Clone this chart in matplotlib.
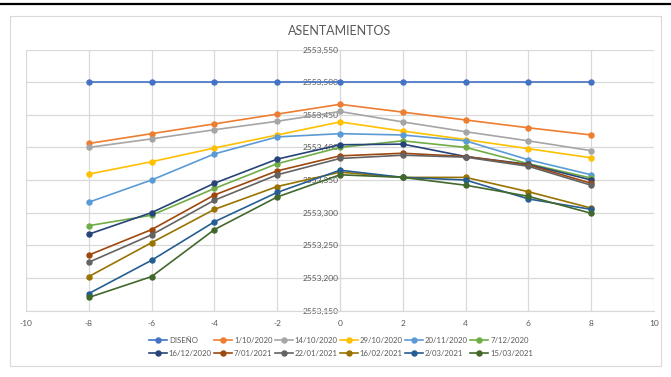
import numpy as np
import matplotlib
matplotlib.use('Agg')
import matplotlib.pyplot as plt
from matplotlib.patches import Rectangle
from matplotlib.lines import Line2D
from matplotlib.ticker import FuncFormatter

plt.rcParams['font.family'] = ['Lato', 'DejaVu Sans']
plt.rcParams['axes.unicode_minus'] = False

# 
# Data
x = [-8, -6, -4, -2, 0, 2, 4, 6, 8]
labels = ['DISEÑO', '1/10/2020', '14/10/2020', '29/10/2020', '20/11/2020', '7/12/2020',
          '16/12/2020', '7/01/2021', '22/01/2021', '16/02/2021', '2/03/2021', '15/03/2021']
diseno   = [2553.500, 2553.500, 2553.500, 2553.500, 2553.500, 2553.500, 2553.500, 2553.500, 2553.500]
s_011020 = [2553.406, 2553.421, 2553.436, 2553.451, 2553.466, 2553.454, 2553.442, 2553.430, 2553.419]
s_141020 = [2553.400, 2553.413, 2553.427, 2553.440, 2553.455, 2553.439, 2553.424, 2553.410, 2553.395]
s_291020 = [2553.359, 2553.378, 2553.399, 2553.419, 2553.439, 2553.425, 2553.412, 2553.398, 2553.384]
s_201120 = [2553.316, 2553.350, 2553.390, 2553.416, 2553.421, 2553.419, 2553.410, 2553.381, 2553.358]
s_071220 = [2553.280, 2553.296, 2553.337, 2553.375, 2553.400, 2553.410, 2553.400, 2553.375, 2553.353]
s_161220 = [2553.267, 2553.300, 2553.345, 2553.382, 2553.404, 2553.405, 2553.386, 2553.374, 2553.350]
s_070121 = [2553.235, 2553.274, 2553.327, 2553.364, 2553.387, 2553.391, 2553.386, 2553.373, 2553.345]
s_220121 = [2553.224, 2553.266, 2553.319, 2553.358, 2553.383, 2553.388, 2553.385, 2553.371, 2553.342]
s_160221 = [2553.202, 2553.254, 2553.305, 2553.340, 2553.362, 2553.354, 2553.354, 2553.332, 2553.307]
s_020321 = [2553.176, 2553.227, 2553.286, 2553.331, 2553.365, 2553.354, 2553.350, 2553.321, 2553.305]
s_150321 = [2553.170, 2553.202, 2553.274, 2553.324, 2553.358, 2553.354, 2553.342, 2553.325, 2553.299]
series = [diseno, s_011020, s_141020, s_291020, s_201120, s_071220,
          s_161220, s_070121, s_220121, s_160221, s_020321, s_150321]
colors = ['#4472C4', '#ED7D31', '#A5A5A5', '#FFC000', '#5B9BD5', '#70AD47',
          '#264478', '#9E480E', '#636363', '#997300', '#255E91', '#43682B']

# 
# Figure
fig = plt.figure(figsize=(6.71, 3.77), dpi=100)
ax = fig.add_axes([26/671, 1-310.5/377, 628/671, 261/377])

for vals, lab, c in zip(series, labels, colors):
    ax.plot(x, vals, color=c, lw=1.2, marker='o', ms=3.6, label=lab, zorder=3)

ax.set_xlim(-10, 10)
ax.set_ylim(2553.150, 2553.550)
ax.set_xticks(np.arange(-10, 11, 2))
ax.set_yticks(np.arange(2553.150, 2553.551, 0.05))
ax.yaxis.set_major_formatter(FuncFormatter(lambda v, p: ('%.3f' % v).replace('.', ',')))
ax.grid(True, color='#D9D9D9', lw=0.9, zorder=0)
for s in ['top', 'right']:
    ax.spines[s].set_visible(False)
ax.spines['left'].set_position(('data', 0))
ax.spines['left'].set_color('#D9D9D9')
ax.spines['bottom'].set_color('#D9D9D9')
ax.tick_params(length=0, labelsize=6, labelcolor='#595959')
ax.tick_params(axis='x', pad=7)
ax.tick_params(axis='y', pad=1)

fig.text(340/671, 1-31/377, 'ASENTAMIENTOS', ha='center', va='center', fontsize=9, color='#595959')

# legend in two rows, filled row by row
h, l = ax.get_legend_handles_labels()
order = [0, 6, 1, 7, 2, 8, 3, 9, 4, 10, 5, 11]
fig.legend([h[i] for i in order], [l[i] for i in order], ncol=6, loc='center',
           bbox_to_anchor=(341/671, 1-347/377), frameon=False, fontsize=5.6,
           labelcolor='#595959', handlelength=2.3, columnspacing=0.3, handletextpad=0.25,
           labelspacing=0.75, borderpad=0.2)

# chart border and page line
fig.add_artist(Rectangle((10/671, 1-366/377), 651/671, 350/377, transform=fig.transFigure,
                         fill=False, edgecolor='#D9D9D9', lw=0.8))
fig.add_artist(Line2D([0, 1], [1-4/377, 1-4/377], transform=fig.transFigure, color='black', lw=1.6))

fig.savefig('out.png', dpi=100)
